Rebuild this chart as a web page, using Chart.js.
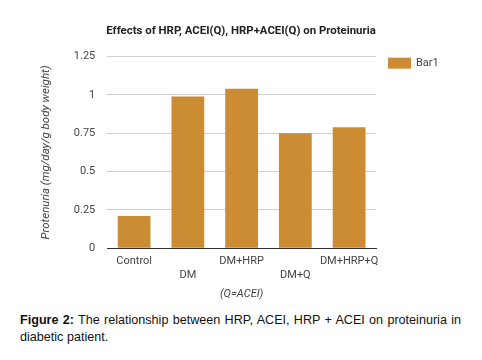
<!DOCTYPE html>
<html>
<head>
<meta charset="utf-8">
<script src="https://cdn.jsdelivr.net/npm/chart.js@4/dist/chart.umd.min.js"></script>
<style>
  body { margin: 0; background: #fff; }
  #wrap { position: relative; width: 482px; height: 310px; }
  .caption {
    position: absolute; left: 20px; top: 312px; width: 441px;
    font-family: "Liberation Sans", Arial, sans-serif; font-size: 12.6px;
    line-height: 17px; color: #111; text-align: justify; text-align-last: left;
    margin: 0;
  }
</style>
</head>
<body>
<div id="wrap"><canvas id="proteinuriaChart"></canvas></div>
<p class="caption"><b>Figure 2:</b> The relationship between HRP, ACEI, HRP + ACEI on proteinuria in diabetic patient.</p>
<script>
// groups, second-row labels are staggered like the original
const groupLabels = [["Control"], ["", "DM"], ["DM+HRP"], ["", "DM+Q"], ["DM+HRP+Q"]];
const bar1Values = [0.21, 0.99, 1.04, 0.75, 0.79];
const yTicks = [0, 0.25, 0.5, 0.75, 1, 1.25];

const textColor = "#444";
const barColor = "#cc8c33";

// legend as its own layout box on the right, so the title still centers on the canvas
const sideLegend = {
  id: "sideLegend",
  beforeInit(chart) {
    Chart.layouts.addBox(chart, {
      position: "right",
      weight: 1000,
      fullSize: false,
      options: { z: 0 },
      isHorizontal: () => false,
      update(maxWidth, maxHeight) {
        this.width = 71;
        this.height = maxHeight;
      },
      draw() {
        const c = chart.ctx;
        chart.data.datasets.forEach((ds, i) => {
          const x = this.left + 12;
          const y = this.top + 1 + i * 16;
          c.save();
          c.fillStyle = ds.backgroundColor;
          c.fillRect(x, y, 23, 11);
          c.fillStyle = textColor;
          c.font = "11px Roboto";
          c.textBaseline = "middle";
          c.fillText(ds.label, x + 28, y + 5.5);
          c.restore();
        });
      }
    });
  }
};

const ctx = document.getElementById("proteinuriaChart").getContext("2d");

new Chart(ctx, {
  type: "bar",
  data: {
    labels: groupLabels,
    datasets: [{
      label: "Bar1",
      data: bar1Values,
      backgroundColor: barColor,
      barPercentage: 0.61,
      categoryPercentage: 1.0
    }]
  },
  options: {
    responsive: true,
    maintainAspectRatio: false,
    animation: false,
    layout: { padding: { top: 16, right: 35, left: 35, bottom: 0 } },
    plugins: {
      title: {
        display: true,
        text: "Effects of HRP, ACEI(Q), HRP+ACEI(Q) on Proteinuria",
        color: "#222",
        font: { family: "Roboto", size: 11.4, weight: "bold" },
        padding: { top: 8, bottom: 19 }
      },
      legend: { display: false },
      tooltip: { enabled: false }
    },
    scales: {
      x: {
        grid: { display: false },
        border: { display: true, color: "#333", width: 1 },
        ticks: {
          color: textColor,
          padding: -2,
          font: { family: "Roboto", size: 11, lineHeight: 1.3 },
          maxRotation: 0,
          autoSkip: false
        },
        title: {
          display: true,
          text: "(Q=ACEI)",
          color: textColor,
          font: { family: "Roboto", size: 11, style: "italic" },
          padding: { top: 7, bottom: 9 }
        }
      },
      y: {
        min: 0,
        max: 1.25,
        afterBuildTicks: axis => { axis.ticks = yTicks.map(v => ({ value: v })); },
        grid: { color: "#d0d0d0", drawTicks: false },
        border: { display: false },
        ticks: {
          color: textColor,
          padding: 12,
          font: { family: "Roboto", size: 11 },
          callback: v => String(+v.toFixed(2))
        },
        title: {
          display: true,
          text: "Protenuria (mg/day/g body weight)",
          color: textColor,
          font: { family: "Roboto", size: 11.5, style: "italic" },
          padding: { bottom: 9 }
        }
      }
    }
  },
  plugins: [sideLegend]
});
</script>
</body>
</html>
